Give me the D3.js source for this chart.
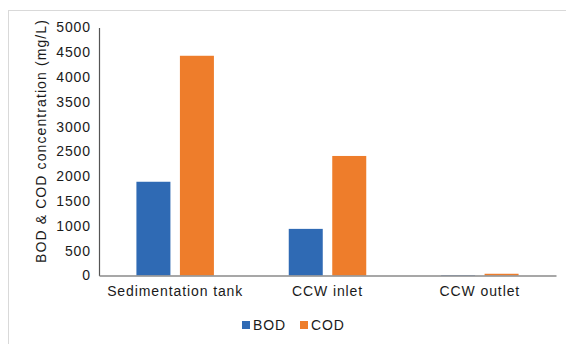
<!DOCTYPE html>
<html>
<head>
<meta charset="utf-8">
<script src="https://cdn.jsdelivr.net/npm/d3@7"></script>
<style>
  html, body { margin: 0; padding: 0; background: #fff; }
  svg { display: block; }
  text { font-family: "Liberation Sans", Arial, sans-serif; fill: #1a1a1a; }
</style>
</head>
<body>
<script>
// Sampling points along the treatment line
const categories = ["Sedimentation tank", "CCW inlet", "CCW outlet"];
// Concentrations in mg/L
const bodValues = [1890, 940, 10];
const codValues = [4430, 2410, 35];
const seriesNames = ["BOD", "COD"];
const seriesColors = ["#2f6ab4", "#ee7d2b"];
const yTicks = [0, 500, 1000, 1500, 2000, 2500, 3000, 3500, 4000, 4500, 5000];

const W = 566, H = 344;
const margin = { left: 99, right: 10, top: 27.5, bottom: 68.5 };
const plotW = W - margin.left - margin.right;
const plotH = H - margin.top - margin.bottom;

const svg = d3.select("body").append("svg")
  .attr("width", W).attr("height", H);

// chart frame
svg.append("rect")
  .attr("x", 8.5).attr("y", 10.5)
  .attr("width", W + 20).attr("height", H + 20)
  .attr("fill", "none").attr("stroke", "#d9d9d9").attr("stroke-width", 1);

const g = svg.append("g").attr("transform", `translate(${margin.left},${margin.top})`);

const x = d3.scaleBand().domain(categories).range([0, plotW]).paddingInner(0).paddingOuter(0);
const y = d3.scaleLinear().domain([0, 5000]).range([plotH, 0]);

const barW = 34, gap = 9.5;
const rows = categories.map((c, i) => ({ cat: c, vals: [bodValues[i], codValues[i]] }));

const groups = g.selectAll("g.cat").data(rows).join("g")
  .attr("class", "cat")
  .attr("transform", d => `translate(${x(d.cat) + x.bandwidth() / 2},0)`);

groups.selectAll("rect").data(d => d.vals.map((v, k) => ({ v, k }))).join("rect")
  .attr("x", d => d.k === 0 ? -gap / 2 - barW : gap / 2)
  .attr("width", barW)
  .attr("y", d => y(d.v))
  .attr("height", d => plotH - y(d.v))
  .attr("fill", d => seriesColors[d.k]);

// y axis
const yAxis = g.append("g")
  .call(d3.axisLeft(y).tickValues(yTicks).tickSize(0).tickPadding(8).tickFormat(d3.format("d")));
yAxis.select(".domain").attr("stroke", "#555").attr("stroke-width", 1.2);
yAxis.selectAll("text")
  .style("font-size", "14px").style("letter-spacing", "0.9px")
  .attr("fill", "#1a1a1a");

// x axis
const xAxis = g.append("g").attr("transform", `translate(0,${plotH})`)
  .call(d3.axisBottom(x).tickSize(0).tickPadding(11));
xAxis.select(".domain").attr("stroke", "#8a8a8a").attr("stroke-width", 1.5);
xAxis.selectAll("text")
  .style("font-size", "14px").style("letter-spacing", "0.9px")
  .attr("fill", "#1a1a1a");

// y axis title
svg.append("text")
  .attr("transform", "translate(46,141) rotate(-90)")
  .attr("text-anchor", "middle")
  .style("font-size", "14px").style("letter-spacing", "1.1px")
  .text("BOD & COD concentration (mg/L)");

// legend
const legend = svg.append("g").attr("transform", "translate(242,325)");
const items = legend.selectAll("g").data(seriesNames).join("g")
  .attr("transform", (d, i) => `translate(${i * 58},0)`);
items.append("rect")
  .attr("x", 0).attr("y", -4).attr("width", 8).attr("height", 8)
  .attr("fill", (d, i) => seriesColors[i]);
items.append("text")
  .attr("x", 11).attr("y", 5)
  .style("font-size", "14px").style("letter-spacing", "0.9px")
  .text(d => d);
</script>
</body>
</html>
